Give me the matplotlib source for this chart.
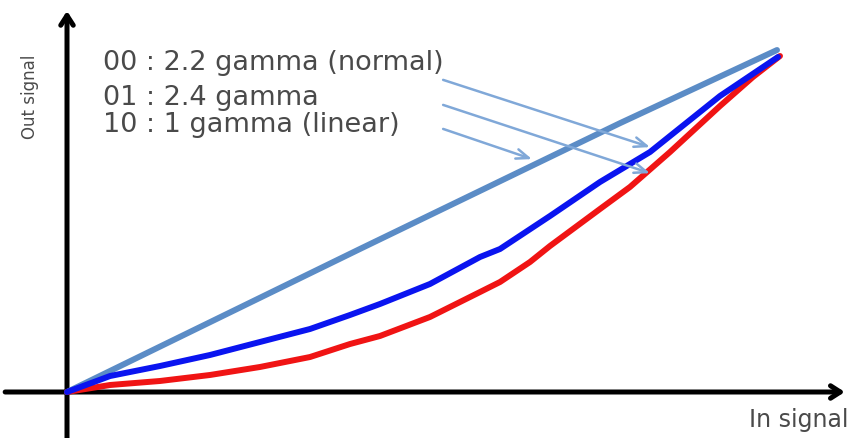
import matplotlib
matplotlib.use("Agg")
import matplotlib.pyplot as plt

# =========================
# data (in/out signal normalised to 0..1)
# =========================
LINEAR_IN = [0.0, 0.412, 0.778, 0.9986]
LINEAR_OUT = [0.0, 0.417, 0.784, 0.997]

G22_IN = [0.0, 0.0605, 0.1308, 0.2011, 0.2714, 0.3418, 0.3980, 0.4402, 0.5105,
          0.5809, 0.6090, 0.6793, 0.7496, 0.8200, 0.8481, 0.9184, 1.0]
G22_OUT = [0.0, 0.0466, 0.0758, 0.1079, 0.1458, 0.1837, 0.2245, 0.2566, 0.3149,
           0.3936, 0.4169, 0.5131, 0.6122, 0.6997, 0.7464, 0.8630, 0.9767]

G24_IN = [0.0, 0.0605, 0.1308, 0.2011, 0.2714, 0.3418, 0.3980, 0.4402, 0.5105,
          0.5809, 0.6090, 0.6512, 0.6793, 0.7496, 0.7918, 0.8481, 0.9184,
          0.9648, 1.0028]
G24_OUT = [0.0, 0.0204, 0.0321, 0.0496, 0.0729, 0.1020, 0.1399, 0.1633, 0.2187,
           0.2915, 0.3207, 0.3790, 0.4257, 0.5335, 0.5977, 0.6997, 0.8338,
           0.9184, 0.9796]

LABELS = ["00 : 2.2 gamma (normal)", "01 : 2.4 gamma", "10 : 1 gamma (linear)"]
X_LABEL = "In signal"
Y_LABEL = "Out signal"

# colours
C_LINEAR = "#5b8cc6"
C_G22 = "#0a14f0"
C_G24 = "#f01414"
C_ARROW = "#80a8d8"
C_TEXT = "#4a4a4a"

fig = plt.figure(figsize=(8.48, 4.39), dpi=100)
ax = fig.add_axes([0, 0, 1, 1])
ax.set_xlim(-67 / 711, (848 - 67) / 711)
ax.set_ylim((393 - 439) / 343, 393 / 343)
ax.axis("off")

# axes drawn as arrows
axis_style = dict(arrowstyle="->,head_length=0.7,head_width=0.45", lw=3.6,
                  color="black", shrinkA=0, shrinkB=0)
ax.annotate("", xy=(0, 1.111), xytext=(0, -0.14), arrowprops=axis_style)
ax.annotate("", xy=(1.094, 0), xytext=(-0.087, 0), arrowprops=axis_style)

# curves
line_kw = dict(lw=4.3, solid_capstyle="round", solid_joinstyle="round")
ax.plot(LINEAR_IN, LINEAR_OUT, color=C_LINEAR, zorder=3, **line_kw)
ax.plot(G24_IN, G24_OUT, color=C_G24, zorder=3, **line_kw)
ax.plot(G22_IN, G22_OUT, color=C_G22, zorder=4, **line_kw)

# legend text
text_y = [0.962, 0.860, 0.782]
for label, ty in zip(LABELS, text_y):
    ax.text(0.051, ty, label, fontsize=19.5, color=C_TEXT, va="center", ha="left",
            family="DejaVu Sans")

# pointer arrows: (start, end)
pointers = [
    ((0.529, 0.910), (0.820, 0.714)),
    ((0.529, 0.837), (0.820, 0.638)),
    ((0.529, 0.767), (0.654, 0.679)),
]
for start, end in pointers:
    ax.annotate("", xy=end, xytext=start,
                arrowprops=dict(arrowstyle="->,head_length=0.9,head_width=0.35",
                                lw=1.8, color=C_ARROW, shrinkA=0, shrinkB=0),
                zorder=5)

ax.text(-0.052, 0.863, Y_LABEL, rotation=90, fontsize=12, color=C_TEXT,
        va="center", ha="center")
ax.text(1.099, -0.078, X_LABEL, fontsize=17, color=C_TEXT, va="center", ha="right")

fig.savefig("out.png", dpi=100)
